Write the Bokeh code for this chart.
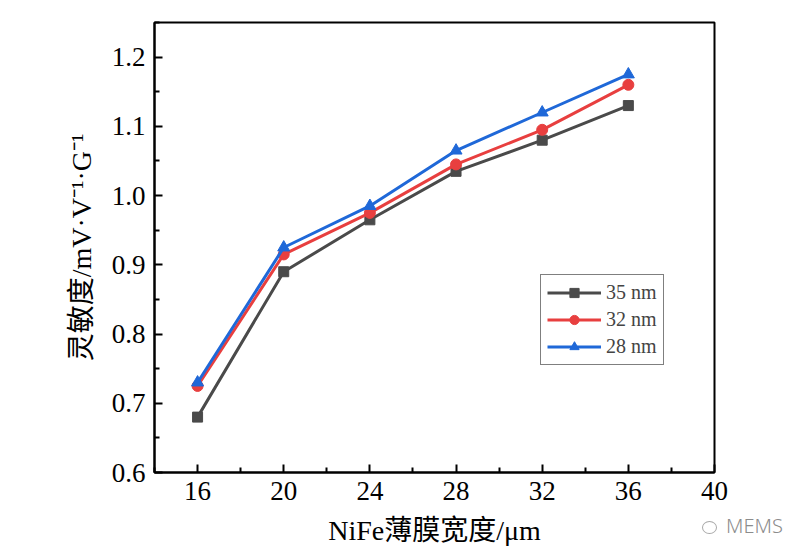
from bokeh.plotting import figure
from bokeh.models import FixedTicker, Legend, LegendItem, Div
from bokeh.layouts import column
from bokeh.embed import file_html
from bokeh.resources import INLINE

widths = [16, 20, 24, 28, 32, 36]
s35 = [0.68, 0.89, 0.965, 1.035, 1.08, 1.13]
s32 = [0.725, 0.915, 0.975, 1.045, 1.095, 1.16]
s28 = [0.73, 0.925, 0.985, 1.065, 1.12, 1.175]
series_names = ["35 nm", "32 nm", "28 nm"]
x_ticks = [16, 20, 24, 28, 32, 36, 40]
y_ticks = [0.6, 0.7, 0.8, 0.9, 1.0, 1.1, 1.2]
watermark = "MEMS"

SERIF = "Liberation Serif, Noto Sans CJK SC"

p = figure(width=800, height=552, x_range=(14, 40), y_range=(0.6, 1.25),
           output_backend="svg", toolbar_location=None,
           min_border_left=154, min_border_right=86, min_border_top=22, min_border_bottom=80)
p.background_fill_color = "white"
p.border_fill_color = "white"
p.outline_line_color = "black"
p.outline_line_width = 2
p.xgrid.visible = False
p.ygrid.visible = False

p.xaxis.ticker = FixedTicker(ticks=x_ticks, minor_ticks=[14, 18, 22, 26, 30, 34, 38])
p.yaxis.ticker = FixedTicker(ticks=y_ticks, minor_ticks=[0.65, 0.75, 0.85, 0.95, 1.05, 1.15, 1.25])
p.yaxis.major_label_overrides = {v: f"{v:.1f}" for v in y_ticks}
p.xaxis.axis_label = "NiFe薄膜宽度/μm"
p.yaxis.axis_label = "灵敏度/mV·V⁻¹·G⁻¹"

for ax in (p.xaxis[0], p.yaxis[0]):
    ax.axis_line_width = 2
    ax.axis_line_color = "black"
    ax.major_tick_in = 8
    ax.major_tick_out = 0
    ax.minor_tick_in = 5
    ax.minor_tick_out = 0
    ax.major_tick_line_width = 2
    ax.minor_tick_line_width = 2
    ax.major_tick_line_color = "black"
    ax.minor_tick_line_color = "black"
    ax.major_label_text_font = SERIF
    ax.major_label_text_font_size = "27px"
    ax.major_label_text_color = "black"
    ax.axis_label_text_font = SERIF
    ax.axis_label_text_font_size = "28px"
    ax.axis_label_text_font_style = "normal"
    ax.axis_label_text_color = "black"
    ax.major_label_standoff = 9
    ax.axis_label_standoff = 12

colors = ["#4a4a4a", "#e83f3f", "#1f68d8"]
l0 = p.line(widths, s35, line_color=colors[0], line_width=3)
m0 = p.scatter(widths, s35, marker="square", size=10, fill_color=colors[0], line_color=colors[0])
l1 = p.line(widths, s32, line_color=colors[1], line_width=3)
m1 = p.scatter(widths, s32, marker="circle", size=11, fill_color=colors[1], line_color=colors[1])
l2 = p.line(widths, s28, line_color=colors[2], line_width=3)
m2 = p.scatter(widths, s28, marker="triangle", size=12, fill_color=colors[2], line_color=colors[2])

legend = Legend(items=[
    LegendItem(label=series_names[0], renderers=[l0, m0]),
    LegendItem(label=series_names[1], renderers=[l1, m1]),
    LegendItem(label=series_names[2], renderers=[l2, m2]),
], location=(386, 107))
legend.border_line_color = "black"
legend.border_line_width = 1.5
legend.label_text_font = SERIF
legend.label_text_font_size = "20px"
legend.glyph_width = 54
legend.glyph_height = 23
legend.label_height = 23
legend.spacing = 4
legend.padding = 6
legend.margin = 0
legend.label_standoff = 5
legend.background_fill_alpha = 1
p.add_layout(legend, "center")

icon_html = ('<span style="display:inline-block;width:15px;height:13px;'
             'border:1px solid #a8a8a8;border-radius:50%;margin-right:9px;'
             'vertical-align:middle;"></span>')
wm = Div(text=icon_html + watermark, width=100, height=24, margin=(-38, 0, 0, 702),
         styles={"color": "#8c8c8c", "font-family": "Noto Sans", "font-size": "20px",
                 "font-weight": "300", "line-height": "24px"})

layout = column(p, wm)
open("out.html", "w").write(file_html(layout, INLINE))
